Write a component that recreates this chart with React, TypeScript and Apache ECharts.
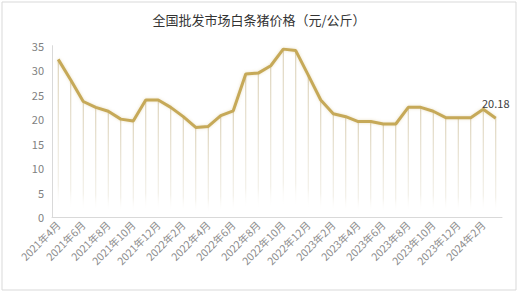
import React, { useEffect, useRef } from "react";
import * as echarts from "echarts";

const titleText = "全国批发市场白条猪价格（元/公斤）";

const months: string[] = [
  "2021年4月", "2021年5月", "2021年6月", "2021年7月", "2021年8月", "2021年9月",
  "2021年10月", "2021年11月", "2021年12月", "2022年1月", "2022年2月", "2022年3月",
  "2022年4月", "2022年5月", "2022年6月", "2022年7月", "2022年8月", "2022年9月",
  "2022年10月", "2022年11月", "2022年12月", "2023年1月", "2023年2月", "2023年3月",
  "2023年4月", "2023年5月", "2023年6月", "2023年7月", "2023年8月", "2023年9月",
  "2023年10月", "2023年11月", "2023年12月", "2024年1月", "2024年2月", "2024年3月",
];

const prices: number[] = [
  32.2, 28.0, 23.6, 22.4, 21.6, 20.0,
  19.6, 23.9, 23.9, 22.4, 20.5, 18.3,
  18.5, 20.7, 21.7, 29.2, 29.4, 30.9,
  34.3, 34.0, 29.0, 23.9, 21.1, 20.5,
  19.5, 19.5, 19.0, 19.0, 22.4, 22.4,
  21.6, 20.3, 20.3, 20.3, 22.0, 20.18,
];

const yTicks = { min: 0, max: 35, interval: 5 };

export default function App() {
  const ref = useRef<HTMLDivElement>(null);
  useEffect(() => {
    if (!ref.current) return;
    const chart = echarts.init(ref.current, undefined, { renderer: "svg" });
    const lastIdx = prices.length - 1;
    chart.setOption({
      animation: false,
      backgroundColor: "#ffffff",
      textStyle: { fontFamily: "'Noto Sans CJK SC', 'Noto Sans', sans-serif" },
      title: {
        text: titleText,
        left: "center",
        top: 8,
        textStyle: { fontSize: 13, fontWeight: "normal", color: "#333333" },
      },
      graphic: [
        {
          type: "rect",
          shape: { x: 2, y: 2, width: 514, height: 288 },
          style: { fill: "none", stroke: "#d9d9d9", lineWidth: 1 },
          silent: true,
        },
      ],
      grid: { left: 52, right: 16, top: 45.7, bottom: 83 },
      xAxis: {
        type: "category",
        data: months,
        boundaryGap: true,
        axisLine: { show: true, lineStyle: { color: "#d9d9d9", width: 1 } },
        axisTick: { show: false },
        axisLabel: {
          interval: 1,
          rotate: 45,
          fontSize: 10.5,
          color: "#8c8c8c",
          margin: 6,
        },
      },
      yAxis: {
        type: "value",
        min: yTicks.min,
        max: yTicks.max,
        interval: yTicks.interval,
        axisLine: { show: true, lineStyle: { color: "#d9d9d9", width: 1 } },
        axisTick: { show: false },
        splitLine: { show: false },
        axisLabel: { fontSize: 11, color: "#7f7f7f", margin: 8 },
      },
      series: [
        {
          type: "bar",
          data: prices,
          barWidth: 1,
          silent: true,
          itemStyle: {
            color: new echarts.graphic.LinearGradient(0, 0, 0, 1, [
              { offset: 0, color: "rgba(185,165,115,0.6)" },
              { offset: 0.8, color: "rgba(205,195,165,0.3)" },
              { offset: 0.95, color: "rgba(255,255,255,0)" },
              { offset: 1, color: "rgba(255,255,255,0)" },
            ]),
          },
          z: 1,
        },
        {
          type: "line",
          data: prices.map((v, i) =>
            i === lastIdx
              ? {
                  value: v,
                  label: {
                    show: true,
                    position: "top",
                    distance: 10,
                    fontSize: 11,
                    color: "#404040",
                    formatter: (p: any) => Number(p.value).toFixed(2),
                  },
                }
              : v
          ),
          symbol: "circle",
          symbolSize: 0,
          showSymbol: true,
          lineStyle: {
            color: "#c6a958",
            width: 3,
            shadowColor: "rgba(196,166,87,0.35)",
            shadowBlur: 3,
          },
          itemStyle: { color: "#c6a958" },
          z: 3,
        },
      ],
    });
    return () => chart.dispose();
  }, []);
  return (
    <div
      ref={ref}
      style={{ position: "absolute", left: 0, top: 0, width: 518, height: 300 }}
    />
  );
}
